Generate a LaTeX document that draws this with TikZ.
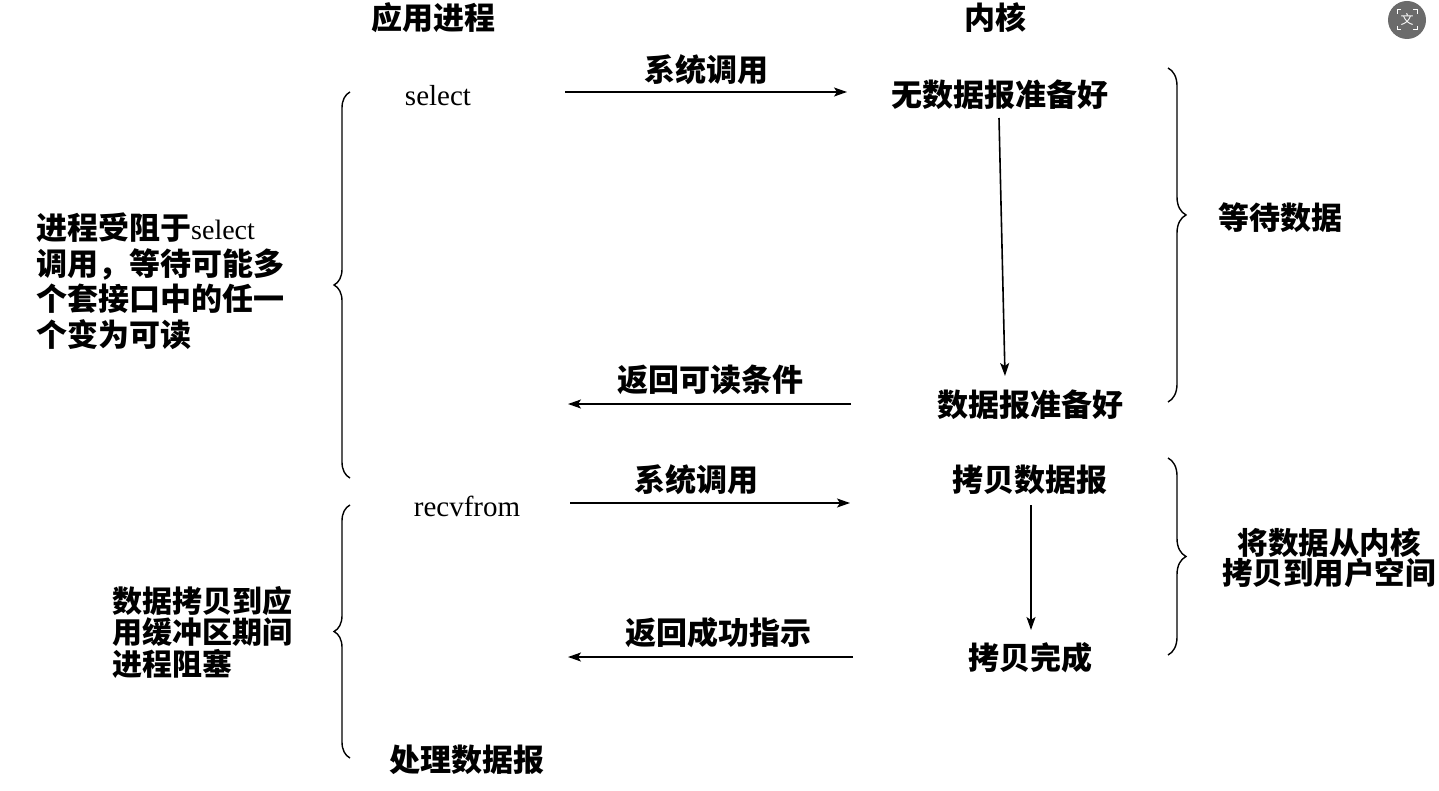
\documentclass[tikz,border=0pt]{standalone}
\usepackage{fontspec}
\setmainfont{Liberation Serif}
\newfontfamily\cjk{Noto Sans CJK SC}
\usetikzlibrary{arrows.meta,decorations.pathreplacing,calc}
\begin{document}
\begin{tikzpicture}[x=1pt,y=-1pt,
  lbl/.style={font=\cjk\bfseries\fontsize{31}{34}\selectfont, inner sep=0pt},
  lat/.style={font=\rmfamily\fontsize{29}{32}\selectfont, inner sep=0pt},
  arr/.style={-{Stealth[length=13pt,width=9pt,inset=3pt]}, line width=1.6pt},
  brc/.style={decorate, line width=1.4pt}]
\useasboundingbox (0,0) rectangle (1439,791);
% headers
\node[lbl] (app) at (433,18) {应用进程};
\node[lbl] (ker) at (995,18) {内核};
% first phase
\node[lat] (sel) at (438,96) {select};
\node[lbl] (nd1) at (1000,95) {无数据报准备好};
\node[lbl] (lab1) at (706,70) {系统调用};
\node[lbl] (nd2) at (1030,405) {数据报准备好};
\node[lbl] (lab2) at (710,380) {返回可读条件};
% second phase
\node[lbl] (cp1) at (1030,480) {拷贝数据报};
\node[lbl] (lab3) at (696,480) {系统调用};
\node[lat] (rcv) at (467,506) {recvfrom};
\node[lbl] (cp2) at (1030,658) {拷贝完成};
\node[lbl] (lab4) at (718,633) {返回成功指示};
\node[lbl] (proc) at (467,760) {处理数据报};
% side texts
\node[lbl, align=left, anchor=west, font=\cjk\bfseries\fontsize{31}{35.5}\selectfont] (blk1) at (36,281)
  {进程受阻于{\rmfamily\mdseries\fontsize{28}{35.5}\selectfont select}\\调用，等待可能多\\个套接口中的任一\\个变为可读};
\node[lbl, align=left, anchor=west, font=\cjk\bfseries\fontsize{30}{31.5}\selectfont] (blk2) at (112,632)
  {数据拷贝到应\\用缓冲区期间\\进程阻塞};
\node[lbl, anchor=west] (wait) at (1218,218) {等待数据};
\node[lbl, align=center, font=\cjk\bfseries\fontsize{30.5}{30}\selectfont] (copy) at (1329,558)
  {将数据从内核\\拷贝到用户空间};
% arrow end points
\coordinate (a1s) at (565,92);  \coordinate (a1e) at (847,92);
\coordinate (a2s) at (851,404); \coordinate (a2e) at (568,404);
\coordinate (a3s) at (570,503); \coordinate (a3e) at (850,503);
\coordinate (a4s) at (853,657); \coordinate (a4e) at (568,657);
\coordinate (v1s) at (999,118); \coordinate (v1e) at (1005,376);
\coordinate (v2s) at (1031,505); \coordinate (v2e) at (1031,630);
\draw[arr] (a1s) -- (a1e);
\draw[arr] (a2s) -- (a2e);
\draw[arr] (a3s) -- (a3e);
\draw[arr] (a4s) -- (a4e);
\draw[arr] (v1s) -- (v1e);
\draw[arr] (v2s) -- (v2e);
% braces
\draw[brc, decoration={brace,amplitude=16pt}] (350,478) -- (350,92);
\draw[brc, decoration={brace,amplitude=16pt}] (350,758) -- (350,505);
\draw[brc, decoration={brace,amplitude=18pt,aspect=0.44}] (1168,68) -- (1168,402);
\draw[brc, decoration={brace,amplitude=18pt,aspect=0.5}] (1168,458) -- (1168,655);
% translate icon
\node[circle, fill=black!58, minimum size=38pt, inner sep=0pt, text=white,
  font=\cjk\fontsize{13}{13}\selectfont] (icon) at (1407,20) {文};
\draw[white, line width=1pt]
  ($(icon.center)+(-10,-6)$) -- ++(0,-4) -- ++(4,0)
  ($(icon.center)+(10,-6)$) -- ++(0,-4) -- ++(-4,0)
  ($(icon.center)+(-10,6)$) -- ++(0,4) -- ++(4,0)
  ($(icon.center)+(10,6)$) -- ++(0,4) -- ++(-4,0);
\end{tikzpicture}
\end{document}
